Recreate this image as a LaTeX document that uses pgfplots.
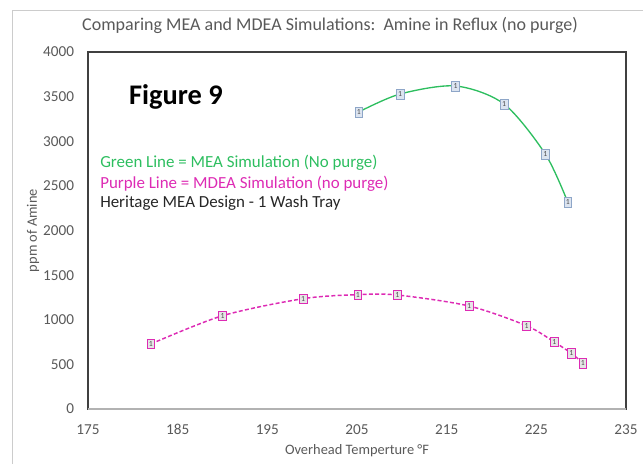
\documentclass[border=0pt]{standalone}
\usepackage{pgfplots}
\pgfplotsset{compat=1.18}
\usepackage{fontspec}
\setmainfont{Carlito}
\definecolor{mea}{HTML}{2DBE5F}
\definecolor{mdea}{HTML}{DD2BB4}
\definecolor{txtgray}{HTML}{595959}
\definecolor{boxblue}{HTML}{DCE4F0}
\definecolor{boxblueedge}{HTML}{8EA6C8}
\begin{document}
\begin{tikzpicture}[x=0.75pt,y=0.75pt]
\draw[black!20, line width=0.6pt] (12,0) -- (12,454) -- (643,454);
\begin{axis}[
  at={(66pt,41.25pt)}, anchor=south west, scale only axis,
  width=403.5pt, height=267.75pt,
  xmin=175, xmax=235, ymin=0, ymax=4000,
  xtick={175,185,...,235}, ytick={0,500,...,4000},
  major tick length=0pt,
  axis line style={draw=black!75, line width=0.8pt},
  /pgf/number format/assume math mode=true,
  /pgf/number format/1000 sep={},
  ticklabel style={font=\fontsize{11.4}{11.4}\selectfont, text=txtgray},
  yticklabel style={xshift=-7pt},
  xticklabel style={yshift=-8pt},
  xlabel={Overhead Temperture °F},
  ylabel={ppm of Amine},
  label style={font=\fontsize{10.8}{10.8}\selectfont, text=txtgray},
  xlabel style={at={(axis description cs:0.5,-0.117)}, anchor=center},
  ylabel style={at={(axis description cs:-0.102,0.5)}, anchor=center, rotate=0},
  title={Comparing MEA and MDEA Simulations:\ \ Amine in Reflux (no purge)},
  title style={at={(axis description cs:0.45,1.053)}, anchor=center, yshift=0pt, font=\fontsize{13.5}{13.5}\selectfont, text=txtgray},
  clip=false,
]
\draw[black!30, line width=0.8pt] (rel axis cs:0,0) -- (rel axis cs:1,0);
\addplot[mea, line width=1pt, smooth, mark=none,
  nodes near coords={1},
  every node near coord/.style={anchor=center, draw=boxblueedge, fill=boxblue, text=black!70, line width=0.4pt,
    font=\fontsize{5.8}{5.8}\selectfont, inner sep=0pt, minimum width=5.8pt, minimum height=7.2pt}]
coordinates {
(205.2,3328) (209.8,3529) (216.0,3619) (221.4,3417) (226.0,2857) (228.5,2319)
};
\addplot[mdea, line width=1.1pt, smooth, dash pattern=on 3pt off 1.7pt, mark=none,
  nodes near coords={1},
  every node near coord/.style={anchor=center, draw=mdea, fill=black!10, text=black!70, line width=0.5pt, solid,
    font=\fontsize{5.8}{5.8}\selectfont, inner sep=0pt, minimum width=5.8pt, minimum height=7.2pt}]
coordinates {
(182.0,728) (190.0,1045) (199.0,1236) (205.1,1281) (209.5,1277) (217.5,1154) (223.9,933) (227.0,751) (228.9,624) (230.2,515)
};
\node[anchor=west, inner sep=0pt, font=\fontsize{21.3}{21.3}\selectfont\bfseries, text=black] at (axis description cs:0.076,0.874) {Figure 9};
\node[anchor=west, inner sep=0pt, font=\fontsize{12.7}{12.7}\selectfont, text=mea] at (axis description cs:0.0223,0.689) {Green Line = MEA Simulation (No purge)};
\node[anchor=west, inner sep=0pt, font=\fontsize{12.7}{12.7}\selectfont, text=mdea] at (axis description cs:0.0223,0.630) {Purple Line = MDEA Simulation (no purge)};
\node[anchor=west, inner sep=0pt, font=\fontsize{12.7}{12.7}\selectfont, text=black!85] at (axis description cs:0.0223,0.577) {Heritage MEA Design - 1 Wash Tray};
\end{axis}
\pgfresetboundingbox
\path[use as bounding box] (0,0) rectangle (643,464);
\end{tikzpicture}
\end{document}
